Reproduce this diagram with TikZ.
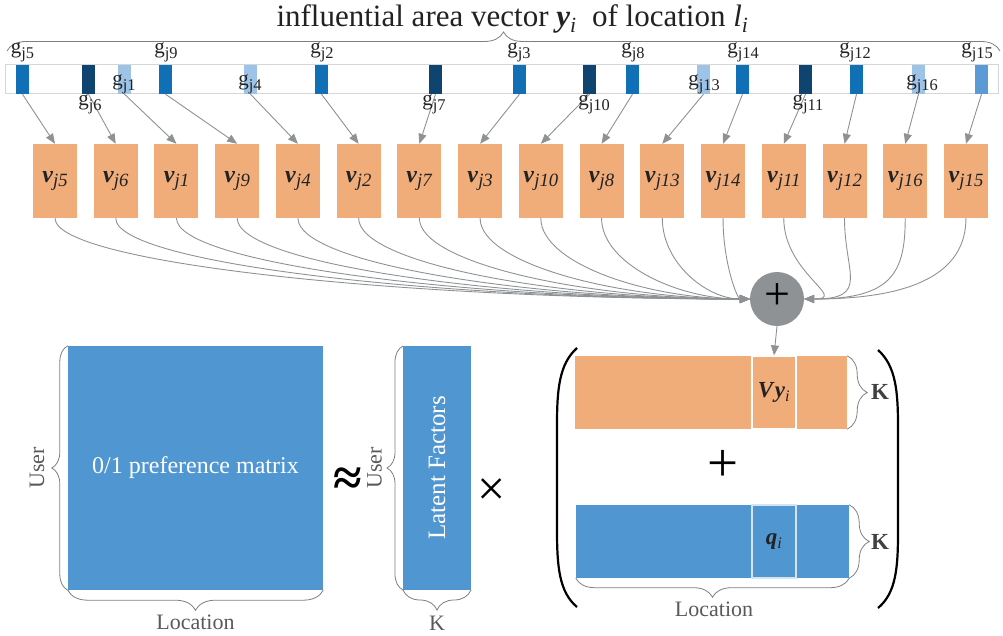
\documentclass[tikz,border=0pt]{standalone}
\usepackage{fontspec}
\usepackage{graphicx}
\setmainfont{Liberation Serif}
\usetikzlibrary{arrows.meta,decorations.pathreplacing}
\definecolor{orng}{HTML}{F0AD7A}
\definecolor{mblue}{HTML}{5096D1}
\definecolor{cmed}{HTML}{1170B5}
\definecolor{cdark}{HTML}{0F4471}
\definecolor{clight}{HTML}{9DC3E6}
\definecolor{cmid}{HTML}{5B9BD5}
\definecolor{agray}{HTML}{8E9295}
\definecolor{bgray}{HTML}{7F7F7F}
\definecolor{tgray}{HTML}{595959}
\definecolor{barline}{HTML}{D6D6D6}
\definecolor{ink}{HTML}{222222}
\newcommand\fs[1]{\fontsize{#1}{#1}\selectfont}
\newcommand\sbs[1]{\raisebox{-0.2em}{\scalebox{0.78}{#1}}}
\begin{document}
\begin{tikzpicture}[x=1pt,y=-1pt,
  cellbox/.style={fill=#1, minimum width=13pt, minimum height=29pt, inner sep=0pt},
  glab/.style={anchor=base, inner sep=0pt, text=ink, font=\fs{21}},
  vbox/.style={fill=orng, minimum width=44pt, minimum height=74pt, inner sep=0pt, text=ink, font=\fs{24}},
  arr/.style={draw=agray, line width=0.9pt, -{Triangle[length=10pt,width=8pt]}},
  brc/.style={draw=bgray, line width=0.8pt, decorate, decoration={brace, amplitude=#1}},
  gtext/.style={text=tgray, font=\fs{22}, inner sep=0pt},
  ktext/.style={text=black!75, font=\fs{23}\bfseries, inner sep=0pt},
]
\useasboundingbox (0,0) rectangle (1003,636);

% title and top brace
\node[anchor=base, inner sep=0pt, text=ink, font=\fs{31}] (title) at (512.5,27)
  {influential area vector \textbf{\textit{y}}\textsubscript{\textit{i}}\ \ of location \textit{l}\textsubscript{\textit{i}}};
\coordinate (tbL) at (7,51);
\coordinate (tbR) at (1000,51);
\draw[brc=19] (tbL) -- (tbR);

% bar
\node[draw=barline, line width=1pt, minimum width=993pt, minimum height=29pt, inner sep=0pt] (bar) at (501.5,79.5) {};
\foreach \i/\x/\col in {1/22.5/cmed, 2/88.5/cdark, 3/124.5/clight, 4/165.5/cmed, 5/250.5/clight, 6/321.5/cmed, 7/435.5/cdark, 8/519.5/cmed, 9/589.5/cdark, 10/632.5/cmed, 11/703.5/clight, 12/742.5/cmed, 13/805.5/cdark, 14/856.5/cmed, 15/918.5/clight, 16/981.5/cmid}
  \node[cellbox=\col] (c\i) at (\x,79.5) {};

% orange boxes
\foreach \i/\t in {1/5,2/6,3/1,4/9,5/4,6/2,7/7,8/3,9/10,10/8,11/13,12/14,13/11,14/12,15/16,16/15}
  \node[vbox] (b\i) at ({55+60.73*(\i-1)},181) {\textbf{\textit{v}}\sbs{\textit{j\t}}};

% arrows bar -> boxes
\foreach \i in {1,...,16}
  \draw[arr] (c\i.south) -- (b\i.north);

% g labels
\foreach \n/\x/\y/\t in {5/22.5/54/5, 9/166/54/9, 2/322/54/2, 3/519/54/3, 8/633/54/8, 14/743/54/14, 12/855/54/12, 15/977/54/15,
  1/124/86/1, 4/250/86/4, 13/704/86/13, 16/922/86/16,
  6/90/106/6, 7/434/106/7, 10/594/106/10, 11/808/106/11}
  \node[glab] (g\n) at (\x,\y) {g\sbs{j\t}};

% plus circle
\node[circle, fill=agray, minimum size=54pt, inner sep=0pt, font=\fs{46}, text=black] (plus) at (777,299) {};
\node[inner sep=0pt, font=\fs{46}, text=black] (plussym) at (777,297) {+};

% curves boxes -> plus
\foreach \i in {1,...,12}{
  \pgfmathsetmacro\d{0.5*(748-(55+60.73*(\i-1)))}
  \draw[arr] (b\i.south) .. controls +(0,45) and +(-\d,0) .. (plus.west);
}
\foreach \i in {13,...,16}{
  \pgfmathsetmacro\d{45+0.35*((55+60.73*(\i-1))-784)}
  \draw[arr] (b\i.south) .. controls +(0,55) and +(\d,0) .. (plus.east);
}

% bottom left matrix
\node[fill=mblue, minimum width=255pt, minimum height=244pt, inner sep=0pt, text=white, font=\fs{24}] (M) at (195.5,468) {0/1 preference matrix};
\draw[brc=16] (M.south west) -- (M.north west);
\draw[brc=20] (M.south east) -- (M.south west);
\node[gtext, rotate=90] (user1) at (37,468) {User};
\node[gtext] (loc1) at (195.5,622) {Location};

\node[inner sep=0pt, font=\fs{52}\bfseries, text=black] (approx) at (348,482) {≈};

% latent factors
\node[fill=mblue, rotate=90, minimum width=244pt, minimum height=68pt, inner sep=0pt, text=white, font=\fs{25}] (L) at (437,468) {Latent Factors};
\coordinate (Lsw) at (403,590);
\coordinate (Lnw) at (403,346);
\coordinate (Lse) at (471,590);
\draw[brc=16] (Lsw) -- (Lnw);
\draw[brc=20] (Lse) -- (Lsw);
\node[gtext, rotate=90] (user2) at (374.5,468) {User};
\node[gtext] (k1) at (437,623) {K};

\node[inner sep=0pt, font=\fs{50}, text=black] (times) at (492,492) {×};

% right part
\draw[black, line width=2.2pt] (577,348) .. controls (559,364) and (557,390) .. (557,425) -- (557,530) .. controls (557,566) and (559,592) .. (577,607);
\draw[black, line width=2.2pt] (878,350) .. controls (896,366) and (898,392) .. (898,427) -- (898,532) .. controls (898,568) and (896,593) .. (878,608);

\node[fill=orng, minimum width=272pt, minimum height=73pt, inner sep=0pt] (ob) at (711,392.5) {};
\node[fill=orng, draw=white, line width=1.2pt, minimum width=44pt, minimum height=73pt, inner sep=0pt, text=ink, font=\fs{23}] (vy) at (774,392.5) {\textbf{\textit{V}}\textbf{\textit{y}}\textsubscript{\textit{i}}};
\node[fill=mblue, minimum width=273pt, minimum height=73pt, inner sep=0pt] (qb) at (712.5,541.5) {};
\node[fill=mblue, draw=white!75!mblue, line width=1.2pt, minimum width=44pt, minimum height=73pt, inner sep=0pt, text=ink, font=\fs{23}] (q) at (774,541.5) {\textbf{\textit{q}}\textsubscript{\textit{i}}};

\node[inner sep=0pt, font=\fs{55}, text=black] (plus2) at (723,466) {+};

\draw[brc=20] (ob.north east) -- (ob.south east);
\draw[brc=20] (qb.north east) -- (qb.south east);
\node[ktext] (k2) at (880,392) {K};
\node[ktext] (k3) at (880,542) {K};
\draw[brc=19] (qb.south east) -- (qb.south west);
\node[gtext] (loc2) at (714,609) {Location};

\draw[arr] (plus.south) -- (vy.north);
\end{tikzpicture}
\end{document}
